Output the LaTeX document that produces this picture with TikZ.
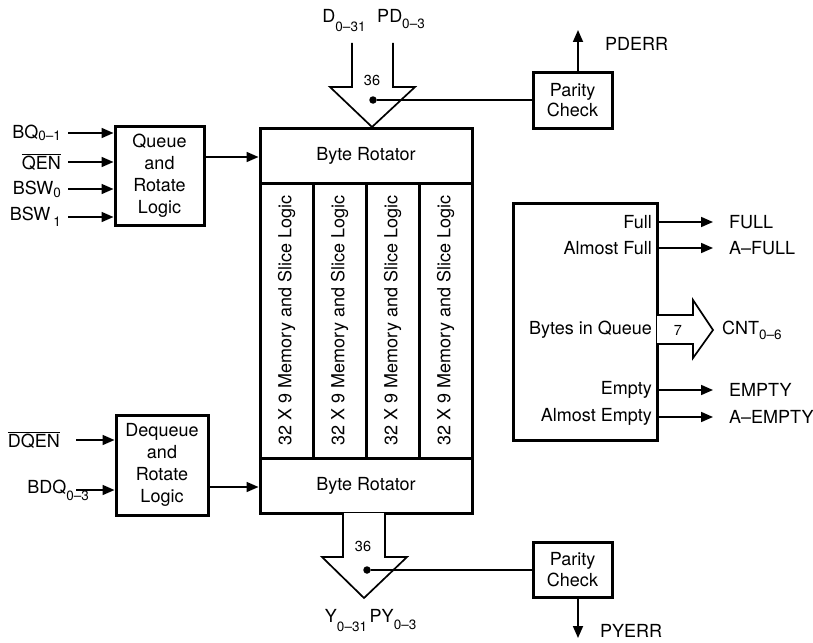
\documentclass[tikz,border=0pt]{standalone}
\usepackage{fontspec}
\setmainfont{TeX Gyre Heros}
\usetikzlibrary{arrows.meta,positioning}
\newcommand{\sbs}[2][4pt]{\raisebox{-#1}{\fontsize{13.5}{13.5}\selectfont #2}}
\newcommand{\ovl}[1]{$\overline{\mbox{#1}}$}

\begin{document}
\begin{tikzpicture}[x=1pt,y=-1pt,
  font=\fontsize{18}{22}\selectfont,
  blk/.style={draw,line width=3pt,align=center,inner sep=0pt},
  sig/.style={-{Triangle[length=12pt,width=10pt]},line width=1.7pt},
  bus/.style={draw,line width=1.7pt,line join=miter,fill=white},
  lbl/.style={inner sep=0pt},
  wid/.style={inner sep=0pt,font=\fontsize{14.5}{14.5}\selectfont},
  dot/.style={circle,fill,inner sep=0pt,minimum size=7.5pt}]
\useasboundingbox (0,0) rectangle (813,642);

% queue core
\node[blk,minimum width=212pt,minimum height=55pt] (rtop) at (366,155.5) {Byte Rotator};
\foreach \i in {1,...,4}
  \node[blk,rotate=90,minimum width=275pt,minimum height=53pt] (sl\i) at ({233.5+53*\i},320.5) {32 X 9 Memory and Slice Logic};
\node[blk,minimum width=212pt,minimum height=55pt] (rbot) at (366,485.5) {Byte Rotator};

% side blocks
\node[blk,minimum width=89pt,minimum height=99pt] (que) at (159.5,175.5) {Queue\\and\\Rotate\\Logic};
\node[blk,minimum width=92pt,minimum height=100pt] (deq) at (162,465) {Dequeue\\and\\Rotate\\Logic};
\node[blk,minimum width=79pt,minimum height=56pt,font=\fontsize{18}{20.5}\selectfont] (pck1) at (572.5,100) {Parity\\Check};
\node[blk,minimum width=79pt,minimum height=55pt,font=\fontsize{18}{20.5}\selectfont] (pck2) at (572.5,569.5) {Parity\\Check};
\node[blk,minimum width=144pt,minimum height=237pt] (stat) at (585,321.5) {};

% enqueue inputs
\foreach \n/\y/\t in {bq/133/BQ\sbs[2pt]{0--1}, qen/162/\ovl{QEN}, bswa/189/BSW\sbs[3pt]{0}, bswb/217/BSW\,\sbs[6pt]{1}} {
  \coordinate (\n) at (68,\y);
  \node[lbl,left=7pt of \n] (\n txt) {\t};
  \draw[sig] (\n) -- (\n -| que.west);
}
\draw[sig] (que.east |- 0,157) -- (rtop.west |- 0,157);

% dequeue inputs
\coordinate (dqen) at (76,440);
\node[lbl,left=16pt of dqen] (dqen txt) {\ovl{DQEN}};
\draw[sig] (dqen) -- (dqen -| deq.west);
\coordinate (bdq) at (76,490);
\node[lbl,anchor=east] (bdq txt) at (89,490) {BDQ\sbs[7pt]{0--3}};
\draw[sig] (bdq) -- (bdq -| deq.west);
\draw[sig] (deq.east |- 0,487) -- (rbot.west |- 0,487);

% data in
\node[lbl,anchor=base] (din) at (344,23) {D\sbs[9pt]{0--31}};
\node[lbl,anchor=base] (pdin) at (401,23) {PD\sbs[6pt]{0--3}};
\draw[bus] (352,43) -- (352,87) -- (330,87) -- (372,127) -- (415,87) -- (393,87) -- (393,43);
\node[wid] (w1) at (372,80) {36};
\node[dot] (dt1) at (373,100) {};
\draw[line width=1.7pt] (dt1) -- (dt1 -| pck1.west);
\coordinate (perr) at (578,30);
\draw[sig] (perr |- pck1.north) -- (perr);
\node[lbl,anchor=west] (perr txt) at (605,44) {PDERR};

% data out
\draw[bus] (343,513) -- (343,557) -- (322,557) -- (364,598) -- (407,557) -- (385,557) -- (385,513);
\node[wid] (w2) at (363,546) {36};
\node[dot] (dt2) at (367,570) {};
\draw[line width=1.7pt] (dt2) -- (dt2 -| pck2.west);
\coordinate (yerr) at (578,638);
\draw[sig] (yerr |- pck2.south) -- (yerr);
\node[lbl,anchor=west] (yerr txt) at (600,631) {PYERR};
\node[lbl,anchor=base] (yout) at (346,622) {Y\sbs[9pt]{0--31}};
\node[lbl,anchor=base] (pyout) at (393,622) {PY\sbs[7pt]{0--3}};

% status flags
\foreach \n/\y/\a/\b in {full/222/Full/FULL, afull/248/Almost Full/A--FULL, empty/390/Empty/EMPTY, aempty/417/Almost Empty/A--EMPTY} {
  \node[lbl,anchor=east] (\n i) at (652,\y) {\a};
  \node[lbl,anchor=west] (\n o) at (729,\y) {\b};
  \draw[sig,shorten >=16pt] (\n i -| stat.east) -- (\n o.west);
}
\node[lbl,anchor=east] (biq) at (652,330) {Bytes in Queue};
\draw[bus] (657,315) -- (693,315) -- (693,300) -- (713,330) -- (693,358) -- (693,344) -- (657,344);
\node[wid] (w3) at (678,330) {7};
\node[lbl,anchor=west] (cnt) at (722,330) {CNT\sbs[5pt]{0--6}};
\end{tikzpicture}
\end{document}
